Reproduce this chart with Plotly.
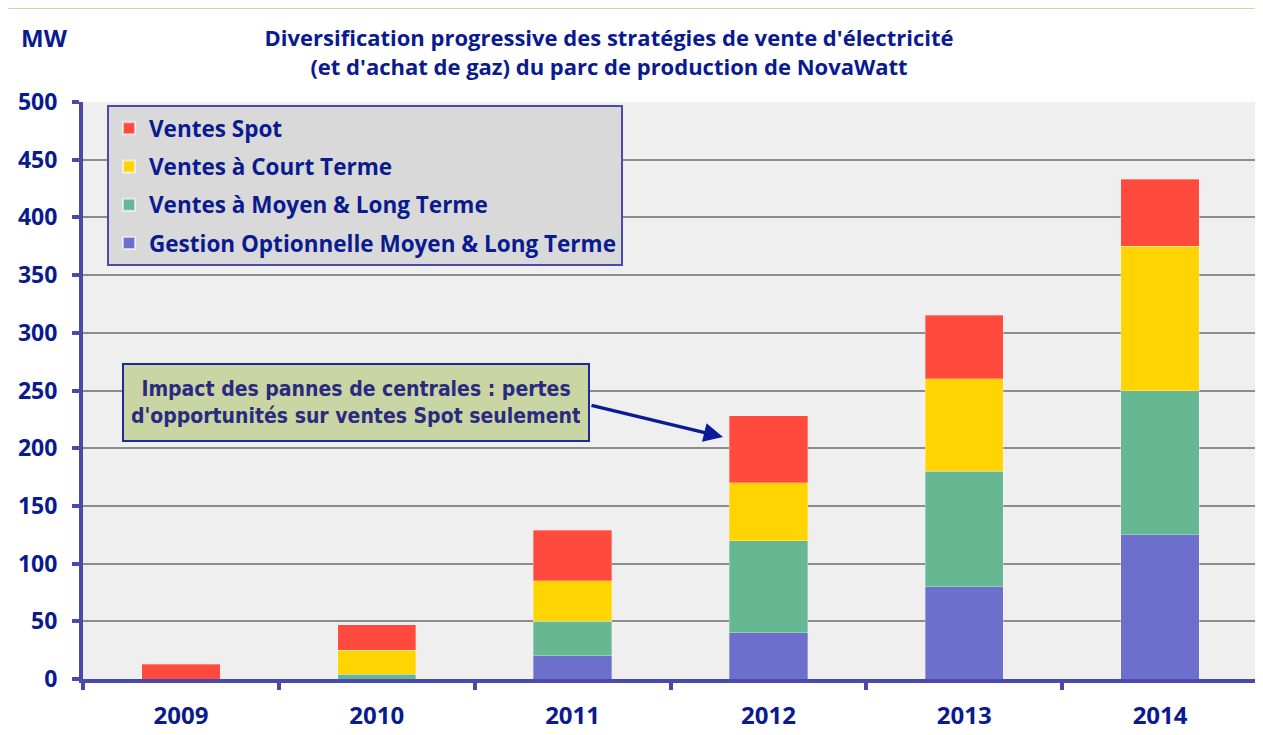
import plotly.graph_objects as go

years = ["2009", "2010", "2011", "2012", "2013", "2014"]
gestion = [0, 0, 20, 40, 80, 125]
moyen_long = [0, 4, 30, 80, 100, 125]
court = [0, 21, 35, 50, 80, 125]
spot = [13, 22, 44, 58, 55, 58]

series = [
    ("Gestion Optionnelle Moyen & Long Terme", gestion, "#6c70cc"),
    ("Ventes à Moyen & Long Terme", moyen_long, "#66b892"),
    ("Ventes à Court Terme", court, "#ffd400"),
    ("Ventes Spot", spot, "#ff4a3d"),
]

OFF = 8  # page body margin
W, H = 1255, 727
L, R, T, B = 75, 5, 94, 56
pw = W - L - R
ph = H - T - B

def px(x):
    return (x - OFF - L) / pw

def py(y):
    return 1 - (y - OFF - T) / ph

blue = "#0a1a8f"
axis_blue = "#4a4aaa"
font = "Open Sans"

fig = go.Figure()
for i, (name, vals, col) in enumerate(series):
    fig.add_trace(go.Bar(
        x=years, y=vals, name="<b>" + name + "</b>", legendgroup="g%d" % i,
        legendrank=1000 - i,
        marker=dict(color=col, line=dict(width=0.5, color="rgba(255,255,255,0.6)")),
    ))

fig.update_layout(
    width=W, height=H,
    margin=dict(l=L, r=R, t=T, b=B),
    barmode="stack", bargap=0.6,
    paper_bgcolor="white", plot_bgcolor="#efefef",
    font=dict(family=font, color=blue),
    title=dict(
        text="<b>Diversification progressive des stratégies de vente d'électricité<br>(et d'achat de gaz) du parc de production de NovaWatt</b>",
        x=(609 - OFF) / W, xanchor="center", y=1 - 38 / H, yanchor="top",
        font=dict(size=22, color=blue, family=font),
    ),
    legend=dict(
        x=px(107), y=py(105), xanchor="left", yanchor="top",
        bgcolor="#d9d9d9", bordercolor=axis_blue, borderwidth=2,
        font=dict(size=22.5, color=blue, family=font),
        traceorder="grouped", itemsizing="constant",
        tracegroupgap=6,
    ),
    showlegend=True,
)

fig.update_xaxes(
    showgrid=False, showline=True, linecolor=axis_blue, linewidth=4,
    ticks="outside", tickson="boundaries", ticklen=7, tickwidth=4, tickcolor=axis_blue,
    tickfont=dict(size=24, color=blue, family=font),
    tickprefix="<b>", ticksuffix="</b>", ticklabelstandoff=12,
)
fig.update_yaxes(
    range=[0, 500], dtick=50, showgrid=True, gridcolor="#8c8c8c", gridwidth=1.5,
    showline=True, linecolor=axis_blue, linewidth=4,
    ticks="outside", ticklen=7, tickwidth=4, tickcolor=axis_blue,
    tickfont=dict(size=23, color=blue, family=font),
    tickprefix="<b>", ticksuffix="</b>", zeroline=False, ticklabelstandoff=10,
)

# right plot border
fig.add_shape(type="line", xref="paper", yref="paper", x0=1, x1=1, y0=0, y1=1,
              line=dict(color="#8c8c8c", width=1.5))
# outer frame
fig.add_shape(type="rect", xref="paper", yref="paper",
              x0=px(5), x1=px(1266), y0=py(8), y1=py(740),
              line=dict(color="#b5cf7a", width=1.5), layer="below")

fig.add_annotation(
    xref="paper", yref="paper", x=px(19), y=py(37), xanchor="left", yanchor="middle",
    text="<b>MW</b>", showarrow=False, font=dict(size=24, color=blue, family=font),
)

# callout box
fig.add_annotation(
    xref="paper", yref="paper", x=px(356), y=py(402), xanchor="center", yanchor="middle",
    text="<b>Impact des pannes de centrales : pertes<br>d'opportunités sur ventes Spot seulement</b>",
    showarrow=False, align="center",
    font=dict(size=21, color="#2a2a80", family="DejaVu Sans Condensed, Liberation Sans"),
    bgcolor="#c9d6a3", bordercolor="#1a2a9a", borderwidth=2, borderpad=8,
    width=448, height=59,
)
fig.add_annotation(
    xref="paper", yref="paper", x=px(723), y=py(437), ax=-133, ay=-32,
    axref="pixel", ayref="pixel", text="", showarrow=True,
    arrowhead=2, arrowsize=1.1, arrowwidth=3.5, arrowcolor="#0a1a99",
)

fig.write_html("out.html")
